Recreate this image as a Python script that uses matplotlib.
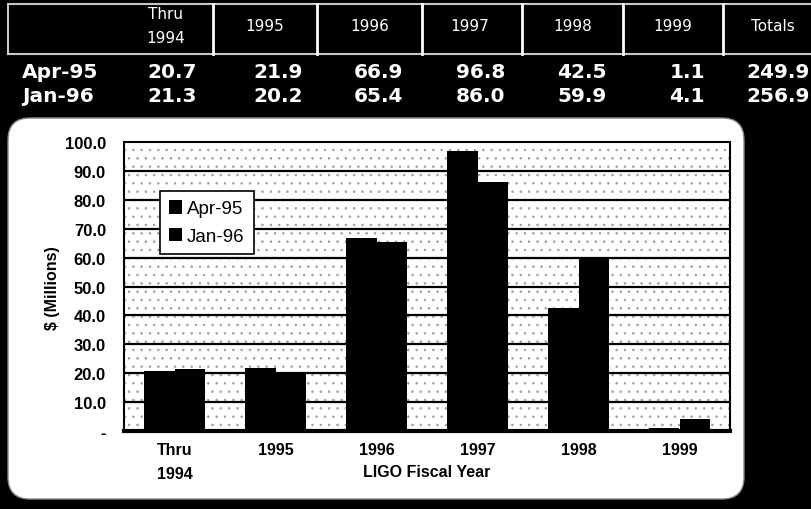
import matplotlib.pyplot as plt
import numpy as np
from matplotlib.patches import FancyBboxPatch, Rectangle
from matplotlib.lines import Line2D
from matplotlib.transforms import IdentityTransform

# LIGO funding profile, $ millions, by fiscal year
years = ['Thru\n1994', '1995', '1996', '1997', '1998', '1999']
header = ['Thru\n1994', '1995', '1996', '1997', '1998', '1999', 'Totals']
plans = ['Apr-95', 'Jan-96']
apr95 = [20.7, 21.9, 66.9, 96.8, 42.5, 1.1]
jan96 = [21.3, 20.2, 65.4, 86.0, 59.9, 4.1]
yticks = [0, 10, 20, 30, 40, 50, 60, 70, 80, 90, 100]

W, H = 812, 510
fig = plt.figure(figsize=(W / 100, H / 100), dpi=100, facecolor='black')
px = IdentityTransform()


def ftext(x, y, s, **kw):
    # place text by pixel position measured from the top-left corner
    fig.text(x, H - y, s, transform=px, **kw)


# ---- summary table across the top ----
grid_c = '#c8c8c8'
for seg in [((8, 812), (5, 5)), ((8, 812), (55, 55)), ((8, 8), (5, 55))]:
    fig.add_artist(Line2D(seg[0], [H - v for v in seg[1]], color=grid_c, lw=1.5, transform=px))
for xv in [213, 317, 422, 522, 623, 723]:
    fig.add_artist(Line2D([xv, xv], [H - 5, H - 55], color='white', lw=2, transform=px))

head_x = [166, 265, 370, 470, 573, 673, 773]
for x, s in zip(head_x, header):
    ftext(x, 27, s, color='white', fontsize=11, ha='center', va='center',
          linespacing=1.75, family='DejaVu Sans')

val_x = [197, 303, 403, 505, 607, 705, 810]
for row_y, name, vals in [(73, plans[0], apr95), (97, plans[1], jan96)]:
    ftext(22, row_y, name, color='white', fontsize=14.5, fontweight='bold',
          ha='left', va='center', family='DejaVu Sans')
    cells = vals + [sum(vals)]
    for x, v in zip(val_x, cells):
        ftext(x, row_y, f'{v:.1f}', color='white', fontsize=14.5, fontweight='bold',
              ha='right', va='center', family='DejaVu Sans')

# ---- white rounded panel holding the chart (drawn beneath the axes) ----
panel = FancyBboxPatch((8, 10), 736, 381, boxstyle='round,pad=0,rounding_size=22',
                       facecolor='white', edgecolor='#888888', lw=1, transform=px,
                       zorder=-5)
fig.add_artist(panel)

ax = fig.add_axes([124 / W, (H - 432) / H, 606 / W, 289 / H])
ax.set_facecolor('white')
plt.rcParams['hatch.linewidth'] = 0.6
ax.add_patch(Rectangle((0, 0), 1, 1, transform=ax.transAxes, facecolor='white',
                       edgecolor='#a0a0a0', hatch='..', lw=0, zorder=0))

x = np.arange(len(years))
w = 0.3
ax.bar(x - w / 2, apr95, w, color='black', label=plans[0], zorder=3)
ax.bar(x + w / 2, jan96, w, color='black', label=plans[1], zorder=3)

for t in yticks[1:-1]:
    ax.axhline(t, color='black', lw=1.6, zorder=1)

ax.set_xlim(-0.5, len(years) - 0.5)
ax.set_ylim(0, 100)
ax.set_yticks(yticks)
ax.set_yticklabels(['-'] + [f'{t:.1f}' for t in yticks[1:]],
                   fontsize=12, fontweight='bold', family='Liberation Sans')
ax.set_xticks(x)
ax.set_xticklabels(years, fontsize=11.5, fontweight='bold', family='Liberation Sans',
                   linespacing=1.75, va='top')
ax.tick_params(axis='y', length=0, pad=13)
ax.tick_params(axis='x', length=0, pad=8)
for side, sp in ax.spines.items():
    sp.set_color('black')
    sp.set_linewidth(1.5)
    sp.set_zorder(4)
ax.spines['bottom'].set_linewidth(3)

ftext(52, 288, '$ (Millions)', rotation=90, fontsize=11.5, fontweight='bold',
      ha='center', va='center', family='Liberation Sans')
ftext(427, 473, 'LIGO Fiscal Year', fontsize=11.5, fontweight='bold',
      ha='center', va='center', family='Liberation Sans')

leg = ax.legend(loc='upper left', bbox_to_anchor=(160 / W, (H - 192) / H),
                bbox_transform=fig.transFigure, borderaxespad=0, fancybox=False,
                framealpha=1, edgecolor='black', handlelength=0.7, handleheight=0.7,
                handletextpad=0.25, labelspacing=0.55, borderpad=0.5,
                prop={'family': 'Liberation Sans', 'size': 13.5})
leg.get_frame().set_linewidth(1.2)
leg.set_zorder(5)

fig.savefig('out.png', dpi=100, facecolor='black')
